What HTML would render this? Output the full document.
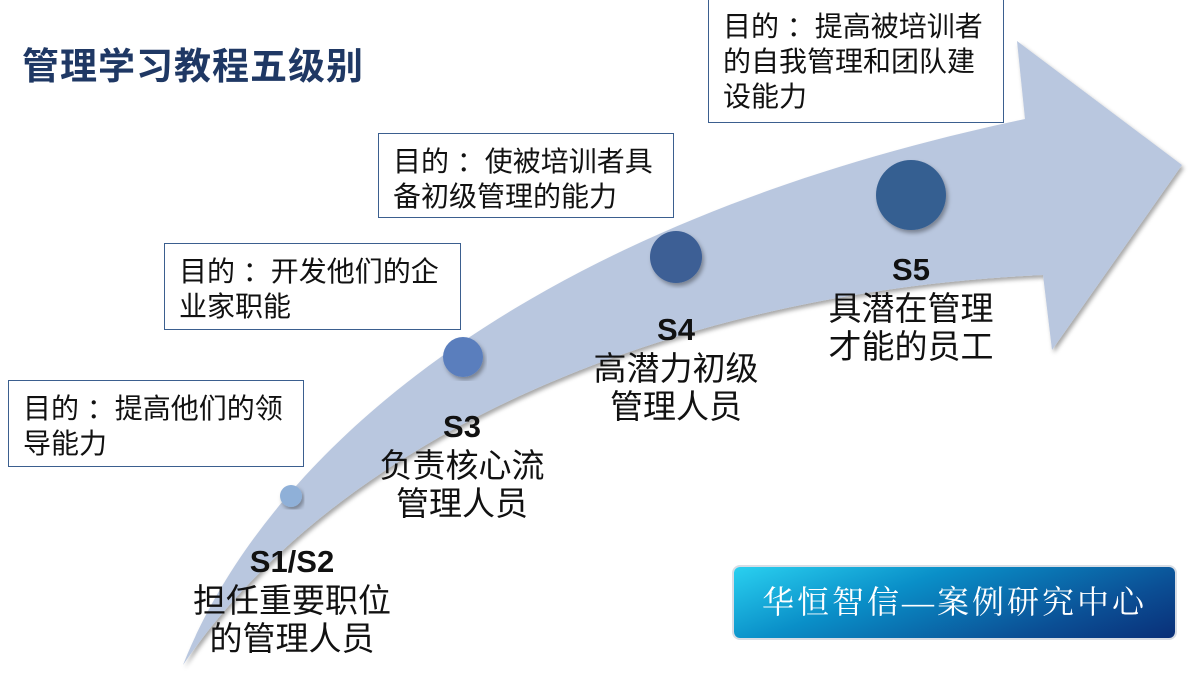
<!DOCTYPE html>
<html><head><meta charset="utf-8"><style>
body{margin:0;width:1189px;height:683px;background:#fff;position:relative;overflow:hidden;font-family:"Liberation Sans","Noto Sans CJK SC",sans-serif}
.box{position:absolute;border:1px solid #3b5f8f;background:#fff;font-size:28px;line-height:35px;color:#111;padding:10px 0 0 14px;box-sizing:border-box;white-space:nowrap}
.lab{position:absolute;text-align:center;color:#111;font-size:33px;line-height:38px;width:260px}
.lab b{display:block;font-size:31px;line-height:40px}
</style></head><body>
<svg width="1189" height="683" style="position:absolute;left:0;top:0">
<defs><filter id="sh"><feDropShadow dx="2" dy="3" stdDeviation="2" flood-opacity="0.35"/></filter></defs>
<path d="M183,665 C260,470 500,230 1025,119 L1017,41 L1182,165 L1052,350 L1043,275 C700,290 350,420 183,665 Z" fill="#b9c7df" filter="url(#sh)"/>
<circle cx="291" cy="496" r="11" fill="#8fb0d8" filter="url(#sh)"/>
<circle cx="463" cy="357" r="20" fill="#5a7ebd" filter="url(#sh)"/>
<circle cx="676" cy="257" r="26" fill="#3c5f95" filter="url(#sh)"/>
<circle cx="911" cy="195" r="35" fill="#365f91" filter="url(#sh)"/>
</svg>
<div style="position:absolute;left:22px;top:36px;font-size:37px;font-weight:bold;color:#1f3864;letter-spacing:1px">管理学习教程五级别</div>
<div class="box" style="left:8px;top:380px;width:296px;height:87px;padding-top:10px">目的 ：提高他们的领<br>导能力</div>
<div class="box" style="left:164px;top:243px;width:297px;height:87px">目的 ：开发他们的企<br>业家职能</div>
<div class="box" style="left:378px;top:133px;width:296px;height:85px">目的 ：使被培训者具<br>备初级管理的能力</div>
<div class="box" style="left:708px;top:-2px;width:296px;height:125px">目的 ：提高被培训者<br>的自我管理和团队建<br>设能力</div>
<div class="lab" style="left:162px;top:542px"><b>S1/S2</b>担任重要职位<br>的管理人员</div>
<div class="lab" style="left:332px;top:407px"><b>S3</b>负责核心流<br>管理人员</div>
<div class="lab" style="left:546px;top:310px"><b>S4</b>高潜力初级<br>管理人员</div>
<div class="lab" style="left:781px;top:250px"><b>S5</b>具潜在管理<br>才能的员工</div>
<div style="position:absolute;left:734px;top:567px;width:441px;height:71px;border-radius:6px;background:linear-gradient(160deg,#2ad0f0 0%,#0a8fc8 35%,#0b4f95 75%,#0a2f78 100%);box-shadow:0 0 0 2px #d8dde5;color:#fff;font-family:'Liberation Serif','Noto Serif CJK SC',serif;font-size:32px;line-height:71px;text-align:center;letter-spacing:3px">华恒智信—案例研究中心</div>
</body></html>
